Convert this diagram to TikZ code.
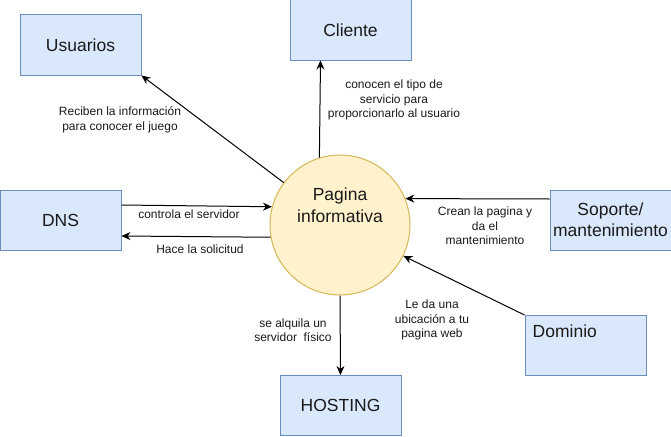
\documentclass[tikz,border=0pt]{standalone}
\usepackage{fontspec}
\setmainfont{Liberation Sans}
\usetikzlibrary{arrows.meta}
\definecolor{boxfill}{HTML}{DAE8FC}
\definecolor{boxline}{HTML}{6C8EBF}
\definecolor{circfill}{HTML}{FFF2CC}
\definecolor{circline}{HTML}{D6B656}
\definecolor{txt}{HTML}{1A1A1A}
\tikzset{
  box/.style={draw=boxline, fill=boxfill, line width=1pt, minimum width=121pt, minimum height=60pt,
    inner sep=0pt, align=center, text=txt, font=\fontsize{17.5}{21}\selectfont},
  circ/.style={draw=circline, fill=circfill, line width=1pt, circle, minimum size=140pt, inner sep=0pt},
  lbl/.style={align=center, text=txt, font=\fontsize{12}{14.5}\selectfont, inner sep=0pt},
  arr/.style={line width=1pt, -{Stealth[length=9pt,width=8pt,inset=3pt]}}
}
\begin{document}
\begin{tikzpicture}[x=1pt,y=-1pt]
\useasboundingbox[fill=white] (0,0) rectangle (671,436);
\node[circ] (pag) at (340,225) {};
\node[align=center, text=txt, font=\fontsize{17.5}{21.5}\selectfont] (pagt) at (340,205) {Pagina\\informativa};
\node[box] (usu) at (80.5,45) {Usuarios};
\node[box] (cli) at (350.5,30) {Cliente};
\node[box] (dns) at (60.5,220) {DNS};
\node[box] (sop) at (610.5,220) {Soporte/\\mantenimiento};
\node[box] (host) at (340.5,405.5) {HOSTING};
\node[box, label={[anchor=west, inner sep=0pt, xshift=8pt, yshift=-16pt, text=txt, font=\fontsize{17.5}{21}\selectfont]north west:Dominio}] (dom) at (585.5,345.5) {};

\draw[arr] (pag.143) -- (usu.south east);
\draw[arr] (pag.107) -- ([xshift=-30pt]cli.south);
\draw[arr] ([yshift=15pt]dns.east) -- (pag.165);
\draw[arr] (pag.190) -- ([yshift=-16pt]dns.east);
\draw[arr] ([yshift=21pt]sop.west) -- (pag.22);
\draw[arr] (dom.north west) -- (pag.-26);
\draw[arr] (pag.south) -- (host.north);

\node[lbl] (l1) at (120,120) {Reciben la información\\para conocer el juego};
\node[lbl] (l2) at (394,100) {conocen el tipo de\\servicio para\\proporcionarlo al usuario};
\node[lbl] (l3) at (189,214) {controla el servidor};
\node[lbl] (l4) at (200,249) {Hace la solicitud};
\node[lbl] (l5) at (485,226) {Crean la pagina y\\da el\\mantenimiento};
\node[lbl] (l6) at (432,320) {Le da una\\ubicación a tu\\pagina web};
\node[lbl] (l7) at (293,330) {se alquila un\\servidor\ \ físico};
\end{tikzpicture}
\end{document}
